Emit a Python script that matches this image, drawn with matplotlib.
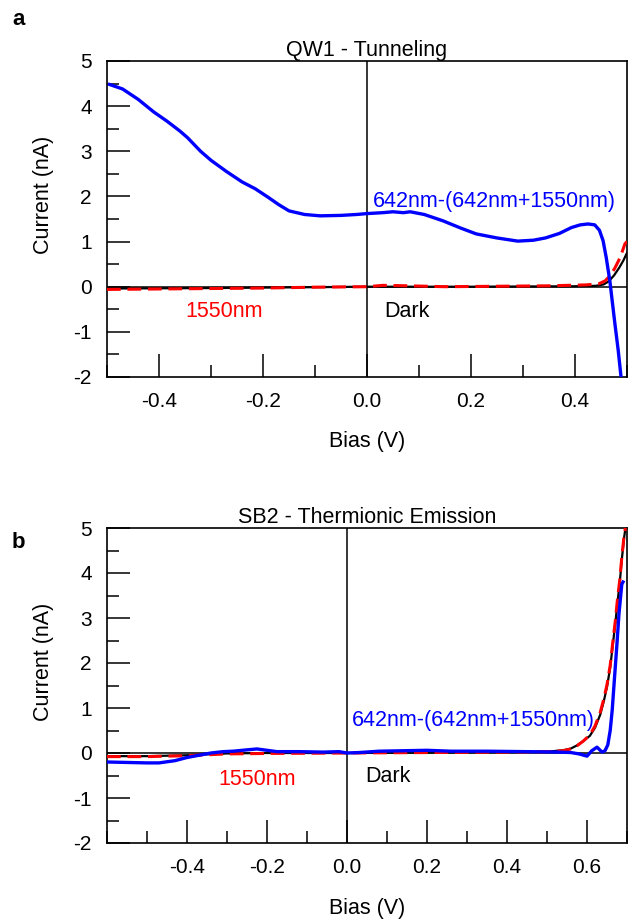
import matplotlib
matplotlib.use("Agg")
import matplotlib.pyplot as plt
from matplotlib.ticker import MultipleLocator

plt.rcParams['font.family'] = ['Liberation Sans', 'DejaVu Sans']

# ---------------- Panel a: QW1 - Tunneling ----------------
a_blue_x = [-0.495, -0.47, -0.44, -0.41, -0.385, -0.36, -0.345, -0.32, -0.30, -0.27,
            -0.24, -0.215, -0.19, -0.17, -0.15, -0.12, -0.09, -0.05, -0.02, 0.0,
            0.03, 0.05, 0.07, 0.083, 0.11, 0.146, 0.18, 0.21, 0.25, 0.29,
            0.32, 0.343, 0.37, 0.393, 0.41, 0.425, 0.438, 0.447, 0.454, 0.46,
            0.467, 0.476, 0.483, 0.489]
a_blue_y = [4.48, 4.38, 4.15, 3.87, 3.67, 3.45, 3.30, 3.00, 2.80, 2.55,
            2.32, 2.17, 1.98, 1.82, 1.68, 1.60, 1.57, 1.58, 1.60, 1.62,
            1.64, 1.66, 1.64, 1.66, 1.60, 1.46, 1.30, 1.17, 1.08, 1.01,
            1.03, 1.08, 1.18, 1.31, 1.37, 1.39, 1.37, 1.25, 1.02, 0.65,
            0.13, -0.75, -1.40, -2.05]

a_dark_x = [-0.5, -0.3, -0.1, 0.0, 0.2, 0.4, 0.44, 0.455, 0.465, 0.475, 0.485, 0.493, 0.5]
a_dark_y = [-0.04, -0.03, -0.01, 0.0, 0.0, 0.01, 0.02, 0.05, 0.12, 0.25, 0.42, 0.58, 0.75]

a_red_x = [-0.5, -0.4, -0.3, -0.2, -0.1, 0.0, 0.03, 0.08, 0.15, 0.25, 0.35, 0.42,
           0.445, 0.458, 0.468, 0.477, 0.487, 0.496, 0.5]
a_red_y = [-0.06, -0.05, -0.04, -0.03, -0.01, 0.0, 0.03, 0.02, 0.0, 0.01, 0.02, 0.04,
           0.06, 0.13, 0.25, 0.42, 0.65, 0.95, 1.0]

# ---------------- Panel b: SB2 - Thermionic Emission ----------------
b_dark_x = [-0.6, -0.5, -0.4, -0.3, -0.2, 0.0, 0.2, 0.4, 0.5, 0.54, 0.56, 0.575, 0.59,
            0.607, 0.62, 0.633, 0.642, 0.65, 0.658, 0.665, 0.671, 0.676, 0.682, 0.687,
            0.693, 0.697]
b_dark_y = [-0.07, -0.07, -0.05, -0.01, 0.0, 0.0, 0.01, 0.02, 0.03, 0.06, 0.10, 0.17, 0.26,
            0.38, 0.56, 0.85, 1.15, 1.47, 1.90, 2.44, 2.90, 3.33, 3.80, 4.30,
            4.80, 5.05]

b_red_x = [-0.6, -0.5, -0.4, -0.3, -0.2, 0.0, 0.2, 0.4, 0.5, 0.54, 0.56, 0.575, 0.59,
           0.607, 0.62, 0.633, 0.642, 0.65, 0.658, 0.665, 0.671, 0.676, 0.682, 0.687,
           0.693, 0.697]
b_red_y = [-0.08, -0.08, -0.06, -0.02, -0.01, 0.0, 0.01, 0.02, 0.03, 0.05, 0.09, 0.16, 0.26,
           0.40, 0.60, 0.90, 1.20, 1.52, 1.95, 2.50, 2.95, 3.40, 3.85, 4.35,
           4.85, 5.05]

b_blue_x = [-0.6, -0.55, -0.5, -0.47, -0.43, -0.4, -0.37, -0.34, -0.31, -0.285,
            -0.25, -0.225, -0.2, -0.175, -0.12, -0.06, -0.02, 0.0, 0.03, 0.08,
            0.14, 0.2, 0.26, 0.35, 0.45, 0.53, 0.56, 0.58, 0.6, 0.612,
            0.625, 0.6375, 0.645, 0.652, 0.658, 0.663, 0.669, 0.675, 0.68, 0.687, 0.69]
b_blue_y = [-0.20, -0.21, -0.22, -0.22, -0.17, -0.10, -0.05, 0.0, 0.03, 0.04,
            0.07, 0.09, 0.06, 0.03, 0.03, 0.02, 0.03, 0.0, 0.01, 0.04,
            0.05, 0.06, 0.04, 0.04, 0.03, 0.02, 0.01, -0.02, -0.07, 0.05,
            0.13, 0.02, 0.05, 0.18, 0.50, 0.95, 1.70, 2.44, 3.10, 3.75, 3.80]

y_ticks = [-2, -1, 0, 1, 2, 3, 4, 5]
a_x_ticks = [-0.4, -0.2, 0.0, 0.2, 0.4]
b_x_ticks = [-0.4, -0.2, 0.0, 0.2, 0.4, 0.6]

BLUE = '#0000FF'
RED = '#FF0000'
FS = 15.5

fig = plt.figure(figsize=(6.28, 9.21), dpi=100)
W, H = 628.0, 921.0


def make_ax(left, top, right, bottom):
    return fig.add_axes([left / W, 1 - bottom / H, (right - left) / W, (bottom - top) / H])


def style(ax, xlim, xticks, title, xlabel_y, ylabel_y):
    ax.set_xlim(*xlim)
    ax.set_ylim(-2, 5)
    ax.set_yticks(y_ticks)
    ax.set_yticklabels([str(t) for t in y_ticks])
    ax.yaxis.set_minor_locator(MultipleLocator(0.5))
    ax.set_xticks(xticks)
    ax.set_xticklabels(['%.1f' % t for t in xticks])
    ax.xaxis.set_minor_locator(MultipleLocator(0.1))
    ax.tick_params(which='major', direction='in', length=16.5, width=1.1,
                   labelsize=15, pad=11, top=False, right=False)
    ax.tick_params(which='minor', direction='in', length=8.8, width=1.1,
                   top=False, right=False)
    for s in ax.spines.values():
        s.set_linewidth(1.2)
    ax.axhline(0, color='black', lw=1.1, zorder=1)
    ax.axvline(0, color='black', lw=1.1, zorder=1)
    ax.set_title(title, fontsize=FS, pad=2)
    ax.set_xlabel('Bias (V)', fontsize=FS)
    ax.set_ylabel('Current (nA)', fontsize=FS)
    ax.xaxis.set_label_coords(0.5, xlabel_y)
    ax.yaxis.set_label_coords(-0.101, ylabel_y)


# Panel a
ax1 = make_ax(107, 61, 627, 377)
ax1.plot(a_dark_x, a_dark_y, color='black', lw=1.6, zorder=3)
ax1.plot(a_red_x, a_red_y, color=RED, lw=2.2, dashes=(4.5, 2.2), zorder=4)
ax1.plot(a_blue_x, a_blue_y, color=BLUE, lw=2.4, zorder=5)
style(ax1, (-0.5, 0.5), a_x_ticks, 'QW1 - Tunneling', -0.171, 0.576)
ax1.text(0.011, 1.88, '642nm-(642nm+1550nm)', color=BLUE, fontsize=FS, ha='left', va='center')
ax1.text(-0.349, -0.55, '1550nm', color=RED, fontsize=FS, ha='left', va='center')
ax1.text(0.033, -0.55, 'Dark', color='black', fontsize=FS, ha='left', va='center')

# Panel b
ax2 = make_ax(107, 528, 627, 843)
ax2.plot(b_dark_x, b_dark_y, color='black', lw=1.6, zorder=3)
ax2.plot(b_red_x, b_red_y, color=RED, lw=2.2, dashes=(4.5, 2.2), zorder=4)
ax2.plot(b_blue_x, b_blue_y, color=BLUE, lw=2.4, zorder=5)
style(ax2, (-0.6, 0.7), b_x_ticks, 'SB2 - Thermionic Emission', -0.175, 0.576)
ax2.text(0.0125, 0.73, '642nm-(642nm+1550nm)', color=BLUE, fontsize=FS, ha='left', va='center')
ax2.text(-0.3225, -0.58, '1550nm', color=RED, fontsize=FS, ha='left', va='center')
ax2.text(0.045, -0.53, 'Dark', color='black', fontsize=FS, ha='left', va='center')

fig.text(12 / W, 1 - 25 / H, 'a', fontsize=16, fontweight='bold', ha='left', va='baseline')
fig.text(12 / W, 1 - 548 / H, 'b', fontsize=16, fontweight='bold', ha='left', va='baseline')

fig.savefig('out.png', dpi=100)
